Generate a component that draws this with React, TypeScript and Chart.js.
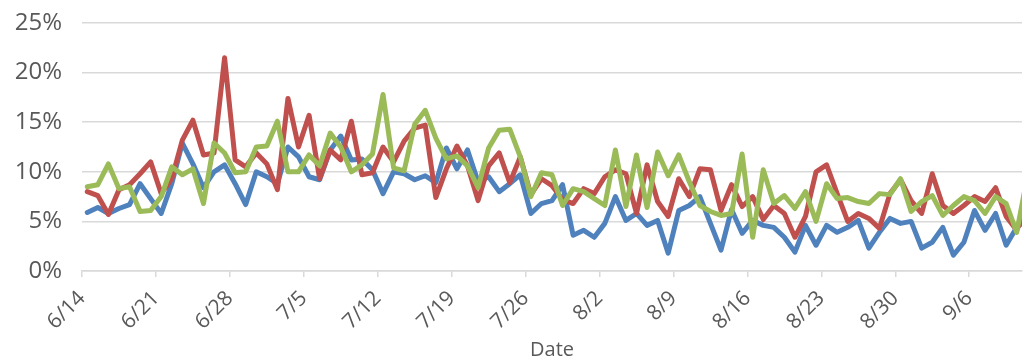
import React, { useEffect, useRef } from 'react';
import { Chart, registerables } from 'chart.js';

Chart.register(...registerables);

// Weekly tick labels (one every 7 days, starting 6/14)
const TICK_LABELS = ['6/14', '6/21', '6/28', '7/5', '7/12', '7/19', '7/26', '8/2', '8/9', '8/16', '8/23', '8/30', '9/6'];
const DAYS_PER_TICK = 7;
const VISIBLE_DAYS = 89;
const X_TITLE = 'Date';
const Y_TICKS = [0, 5, 10, 15, 20, 25];

// Daily values (%) from 6/14 onward
const BLUE_SERIES = [
  5.9, 6.4, 5.8, 6.3, 6.7, 8.8, 7.3, 5.8, 8.8, 12.9,
  10.8, 8.4, 10.0, 10.7, 8.8, 6.7, 10.0, 9.5, 8.8, 12.5,
  11.5, 9.5, 9.2, 12.2, 13.6, 11.2, 11.3, 10.2, 7.8, 10.0,
  9.8, 9.2, 9.6, 8.9, 12.4, 10.3, 12.2, 9.0, 9.5, 8.0,
  8.8, 9.7, 5.8, 6.8, 7.1, 8.7, 3.6, 4.1, 3.4, 4.8,
  7.5, 5.1, 5.8, 4.6, 5.1, 1.8, 6.1, 6.6, 7.5, 4.8,
  2.1, 6.2, 3.8, 5.1, 4.6, 4.4, 3.4, 1.9, 4.6, 2.6,
  4.6, 3.9, 4.4, 5.1, 2.3, 3.9, 5.3, 4.8, 5.0, 2.3,
  2.9, 4.4, 1.6, 2.9, 6.1, 4.1, 5.8, 2.6, 4.4, 5.2,
];
const RED_SERIES = [
  8.0, 7.6, 5.7, 8.2, 8.7, 9.8, 11.0, 7.8, 9.3, 13.2,
  15.2, 11.7, 11.9, 21.5, 11.2, 10.5, 11.9, 10.8, 8.2, 17.4,
  12.5, 15.7, 9.3, 12.2, 11.2, 15.1, 9.7, 9.9, 12.5, 11.0,
  13.1, 14.4, 14.7, 7.4, 10.3, 12.6, 10.6, 7.1, 10.6, 11.9,
  8.9, 11.5, 7.7, 9.3, 8.6, 7.2, 6.8, 8.3, 7.8, 9.5,
  10.2, 9.8, 5.8, 10.7, 7.0, 5.5, 9.3, 7.5, 10.3, 10.2,
  6.1, 8.7, 6.5, 7.5, 5.2, 6.6, 5.8, 3.4, 5.5, 10.0,
  10.7, 7.8, 5.0, 5.8, 5.3, 4.3, 7.8, 9.2, 7.1, 5.8,
  9.8, 6.6, 5.8, 6.6, 7.5, 7.0, 8.4, 5.5, 4.1, 6.5,
];
const GREEN_SERIES = [
  8.5, 8.7, 10.8, 8.3, 8.5, 6.0, 6.1, 7.5, 10.5, 9.7,
  10.3, 6.8, 12.9, 11.9, 9.9, 10.0, 12.5, 12.6, 15.1, 10.0,
  10.0, 11.7, 10.6, 13.9, 12.5, 10.0, 10.7, 11.8, 17.8, 10.4,
  10.1, 14.8, 16.2, 13.4, 11.3, 11.6, 10.6, 8.4, 12.4, 14.2,
  14.3, 11.5, 7.5, 9.9, 9.7, 6.6, 8.3, 8.0, 7.3, 6.6,
  12.2, 6.5, 11.7, 6.4, 12.0, 9.6, 11.7, 9.0, 6.6, 6.0,
  5.6, 5.8, 11.8, 3.4, 10.2, 6.8, 7.6, 6.3, 8.0, 5.0,
  8.8, 7.3, 7.4, 7.0, 6.8, 7.8, 7.7, 9.3, 6.0, 7.0,
  7.6, 5.6, 6.6, 7.5, 7.1, 5.8, 7.5, 6.8, 3.9, 9.5,
];

const TEXT_COLOR = '#595959';
const GRID_COLOR = '#d9d9d9';
const FONT_FAMILY = "'Open Sans', 'Noto Sans', sans-serif";

function toPoints(values: number[]) {
  // each day occupies one slot; the point sits at the slot centre
  return values.map((v, i) => ({ x: i + 0.5, y: v }));
}

export default function App() {
  const canvasRef = useRef<HTMLCanvasElement | null>(null);

  useEffect(() => {
    const canvas = canvasRef.current;
    if (!canvas) return;
    const lineCommon = {
      borderWidth: 5,
      pointRadius: 0,
      pointHoverRadius: 0,
      tension: 0,
      borderJoinStyle: 'round' as const,
      borderCapStyle: 'round' as const,
      fill: false,
    };
    const chart = new Chart(canvas, {
      type: 'line',
      data: {
        datasets: [
          { ...lineCommon, label: 'Series 3', data: toPoints(GREEN_SERIES), borderColor: '#9BBB59', order: 0 },
          { ...lineCommon, label: 'Series 2', data: toPoints(RED_SERIES), borderColor: '#C0504D', order: 1 },
          { ...lineCommon, label: 'Series 1', data: toPoints(BLUE_SERIES), borderColor: '#4F81BD', order: 2 },
        ],
      },
      options: {
        animation: false,
        responsive: false,
        devicePixelRatio: 1,
        layout: { padding: { left: 0, right: 1, top: 23, bottom: 0 } },
        plugins: { legend: { display: false }, tooltip: { enabled: false } },
        scales: {
          x: {
            type: 'linear',
            min: 0,
            max: VISIBLE_DAYS,
            afterBuildTicks: (scale: any) => {
              scale.ticks = TICK_LABELS.map((_, k) => ({ value: k * DAYS_PER_TICK }));
            },
            afterFit: (scale: any) => {
              scale.height = 91;
              scale.paddingLeft = 0;
              scale.paddingRight = 0;
            },
            ticks: {
              autoSkip: false,
              minRotation: 45,
              maxRotation: 45,
              padding: 9,
              color: TEXT_COLOR,
              font: { family: FONT_FAMILY, size: 21 },
              callback: (_v: any, idx: number) => TICK_LABELS[idx],
            },
            grid: {
              drawOnChartArea: false,
              drawTicks: true,
              tickLength: 6,
              color: GRID_COLOR,
              lineWidth: 1.5,
            },
            border: { display: true, color: GRID_COLOR, width: 1.5 },
            title: {
              display: true,
              text: X_TITLE,
              color: TEXT_COLOR,
              font: { family: FONT_FAMILY, size: 20 },
              padding: { top: 0, bottom: 0 },
            },
          },
          y: {
            min: Y_TICKS[0],
            max: Y_TICKS[Y_TICKS.length - 1],
            afterFit: (scale: any) => {
              scale.width = 82;
              scale.paddingTop = 0;
              scale.paddingBottom = 0;
            },
            afterBuildTicks: (scale: any) => {
              scale.ticks = Y_TICKS.map((v) => ({ value: v }));
            },
            ticks: {
              padding: 20,
              color: TEXT_COLOR,
              font: { family: FONT_FAMILY, size: 24 },
              callback: (v: any) => `${v}%`,
            },
            grid: { color: GRID_COLOR, lineWidth: 1.5, drawTicks: false },
            border: { display: false },
          },
        },
      },
    });
    return () => chart.destroy();
  }, []);

  return (
    <div style={{ position: 'absolute', left: 0, top: 0, width: 1023, height: 362, background: '#fff' }}>
      <canvas ref={canvasRef} width={1023} height={362} style={{ display: 'block', width: 1023, height: 362 }} />
    </div>
  );
}
